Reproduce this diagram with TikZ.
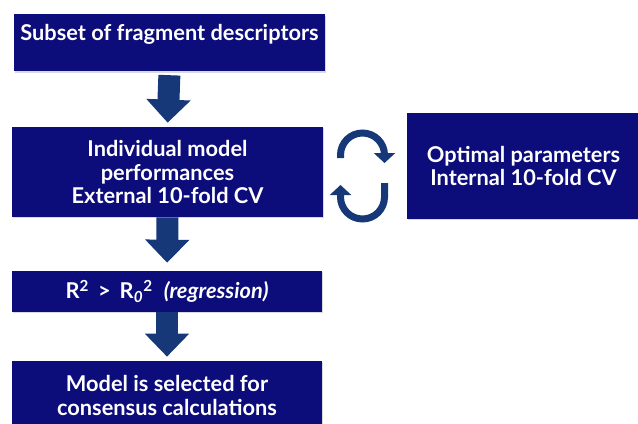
\documentclass[tikz,border=0pt]{standalone}
\usepackage{amsmath}
\usepackage{fontspec}
\setmainfont{Lato}
\usepackage{tikz}
\usetikzlibrary{arrows.meta,positioning,calc,shadows}

\definecolor{boxblue}{RGB}{12,12,122}
\definecolor{arrowblue}{RGB}{22,56,120}

\tikzset{
  stepbox/.style={rectangle, fill=boxblue, text=white, align=center,
    font=\fontsize{12.4}{13.4}\selectfont\bfseries, inner sep=0pt,
    drop shadow={shadow xshift=0.8pt, shadow yshift=-0.8pt, opacity=0.3}},
  blockarrow/.style={draw=arrowblue, line width=0.44cm,
    -{Triangle[width=0.86cm, length=0.46cm]}},
  cyclearrow/.style={draw=arrowblue, line width=0.14cm,
    -{Triangle[width=0.42cm, length=0.2cm]}}
}

\begin{document}
\begin{tikzpicture}[x=0.02cm, y=-0.02cm]
    \useasboundingbox (0,0) rectangle (638,423);
    \clip (0,0) rectangle (638,423);

    % Boxes
    \node[stepbox, anchor=north, minimum width=6.22cm,
          text height=0.52cm, text depth=0.62cm] (subset) at (169.5,14)
          {Subset of fragment descriptors};
    \node[stepbox, minimum width=6.22cm, minimum height=1.8cm] (indiv) at (167.5,172)
          {Individual model\\performances\\External 10-fold CV};
    \node[stepbox, minimum width=4.66cm, minimum height=2.12cm] (optimal) at (523.5,166)
          {Optimal parameters\\Internal 10-fold CV};
    \node[stepbox, minimum width=6.2cm, minimum height=0.82cm] (rsq) at (167,291.5)
          {R$^{\text{2}}$\, >\, R$_{\text{\itshape 0}}{}^{\text{2}}$\ \ \textit{(regression)}};
    \node[stepbox, minimum width=6.2cm, minimum height=1.38cm] (select) at (167,395.5)
          {Model is selected for\\consensus calculations};

    % Flow arrows
    \draw[blockarrow, shorten <=2pt, shorten >=0.08cm] (subset.south) -- (indiv.north);
    \draw[blockarrow, shorten >=0.16cm] (indiv.south) -- (rsq.north);
    \draw[blockarrow, shorten >=0.08cm] (rsq.south) -- (select.north);

    % Cycle between the two boxes
    \coordinate (cyctop) at (340.5,158);
    \coordinate (cycbot) at (384.5,183);
    \draw[cyclearrow] (cyctop) -- ++(0,-3) arc (180:360:22) -- ++(0,8);
    \draw[cyclearrow] (cycbot) -- ++(0,14) arc (0:180:22) -- ++(0,-12);
\end{tikzpicture}
\end{document}
